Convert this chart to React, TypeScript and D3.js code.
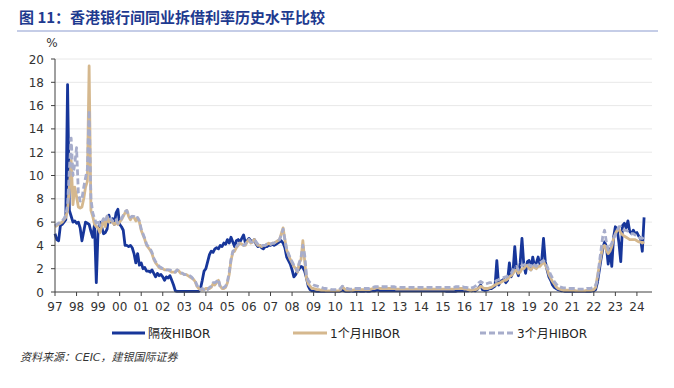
import React from "react";
import * as d3 from "d3";

const startYear = 1997;
const yearLabels = ["97","98","99","00","01","02","03","04","05","06","07","08","09","10","11","12","13","14","15","16","17","18","19","20","21","22","23","24"];
const yTicks = [0, 2, 4, 6, 8, 10, 12, 14, 16, 18, 20];
const seriesNames = ["隔夜HIBOR", "1个月HIBOR", "3个月HIBOR"];

// Monthly values from Jan 1997 to May 2024 (%)
const overnight = [
  5.0, 4.5, 4.4, 5.7, 5.8, 6.0, 6.2, 17.8, 7.0, 6.5, 6.0, 6.1,
  5.9, 6.0, 5.5, 4.4, 5.2, 6.0, 5.9, 5.8, 5.2, 4.7, 5.8, 0.8,
  5.3, 6.0, 5.6, 5.0, 5.1, 5.4, 6.6, 6.0, 6.3, 5.8, 6.8, 7.1,
  5.8, 5.6, 5.3, 4.0, 4.0, 3.9, 4.0, 3.8, 3.3, 2.5, 3.3, 2.3,
  2.5, 2.0, 2.1, 1.8, 1.8, 1.7, 1.9, 1.6, 1.3, 1.6, 1.4, 1.5,
  1.3, 1.0, 1.3, 1.2, 1.4, 1.0, 0.6, 0.1, 0.05, 0.05, 0.05, 0.05,
  0.05, 0.05, 0.05, 0.05, 0.05, 0.05, 0.05, 0.05, 0.05, 0.3, 1.0, 1.8,
  2.0, 2.6, 3.2, 3.5, 3.4, 3.7, 3.8, 3.7, 4.0, 3.9, 4.2, 4.1,
  4.5, 4.2, 4.7, 4.3, 3.9, 4.4, 4.5, 4.3, 4.6, 4.9, 4.2, 4.4,
  4.6, 4.4, 4.3, 4.5, 4.1, 3.9, 4.0, 3.8, 3.7, 3.9, 3.9, 4.0,
  4.0, 4.1, 4.0, 4.1, 4.2, 4.3, 4.4, 4.2, 3.8, 3.0, 2.7, 2.4,
  1.9, 1.3, 1.5, 1.8, 2.0, 2.2, 2.1, 1.8, 1.2, 0.5, 0.2, 0.1,
  0.1, 0.08, 0.05, 0.05, 0.05, 0.05, 0.05, 0.05, 0.05, 0.05, 0.05, 0.05,
  0.05, 0.05, 0.05, 0.1, 0.15, 0.1, 0.05, 0.05, 0.05, 0.1, 0.05, 0.05,
  0.05, 0.1, 0.05, 0.05, 0.05, 0.1, 0.05, 0.05, 0.1, 0.1, 0.1, 0.15,
  0.15, 0.1, 0.1, 0.1, 0.1, 0.1, 0.1, 0.1, 0.1, 0.1, 0.1, 0.1,
  0.1, 0.1, 0.1, 0.1, 0.1, 0.1, 0.1, 0.1, 0.1, 0.1, 0.1, 0.1,
  0.1, 0.1, 0.1, 0.1, 0.1, 0.1, 0.1, 0.1, 0.1, 0.1, 0.1, 0.1,
  0.1, 0.1, 0.05, 0.05, 0.05, 0.05, 0.05, 0.05, 0.1, 0.1, 0.1, 0.1,
  0.1, 0.1, 0.1, 0.15, 0.1, 0.15, 0.1, 0.2, 0.4, 0.6, 0.2, 0.15,
  0.15, 0.2, 0.3, 0.3, 0.4, 0.5, 2.7, 0.6, 0.9, 1.0, 1.1, 0.8,
  1.0, 2.5, 1.3, 1.7, 3.9, 1.9, 1.4, 2.5, 4.6, 2.4, 1.6, 2.6,
  2.7, 1.9, 3.0, 2.2, 2.5, 3.0, 2.4, 2.7, 4.6, 2.6, 1.9, 1.3,
  1.0, 0.6, 0.4, 0.3, 0.2, 0.15, 0.1, 0.1, 0.05, 0.05, 0.05, 0.05,
  0.05, 0.05, 0.05, 0.05, 0.05, 0.05, 0.05, 0.05, 0.05, 0.05, 0.05, 0.1,
  0.1, 0.2, 0.8, 1.8, 2.8, 3.7, 4.3, 3.9, 2.4, 3.7, 2.2, 4.7,
  5.6, 5.4, 4.2, 2.6, 5.7, 5.9, 5.5, 6.1, 5.2, 5.0, 5.3, 5.0,
  5.1, 4.8, 4.6, 3.5, 6.4,
];

const oneMonth = [
  5.6, 5.7, 5.8, 5.9, 6.0, 6.2, 6.4, 7.0, 9.0, 11.3, 7.5, 9.0,
  8.2, 7.3, 7.2, 7.3, 8.0, 9.0, 9.5, 19.4, 7.0, 6.5, 5.8, 5.6,
  5.5, 5.1, 5.6, 6.2, 5.6, 6.5, 6.0, 6.2, 6.0, 5.8, 6.0, 5.8,
  6.0, 6.2, 6.5, 6.8, 7.0, 6.5, 6.2, 6.5, 6.4, 6.1, 6.3, 6.0,
  5.3, 4.9, 4.5, 4.0, 3.8, 3.6, 3.3, 2.8, 2.5, 2.3, 2.1, 2.0,
  2.0, 1.9, 1.9, 1.9, 1.8, 1.7, 1.7, 1.7, 1.9, 1.8, 1.6, 1.6,
  1.5, 1.5, 1.4, 1.3, 1.2, 1.1, 0.9, 0.5, 0.3, 0.2, 0.2, 0.2,
  0.3, 0.3, 0.3, 0.4, 0.7, 0.6, 0.8, 1.0, 0.5, 0.3, 0.3, 0.4,
  0.8, 1.5, 2.7, 3.4, 3.5, 3.8, 4.0, 4.2, 4.1, 4.0, 4.0, 4.3,
  4.5, 4.2, 4.3, 4.5, 4.2, 4.0, 4.0, 3.9, 4.0, 4.0, 4.1, 4.2,
  4.1, 4.2, 4.2, 4.3, 4.4, 4.5, 5.0, 5.5, 4.5, 3.6, 3.2, 2.8,
  2.5, 2.2, 2.0, 1.7, 2.5, 2.8, 4.4, 2.7, 1.2, 0.7, 0.5, 0.3,
  0.3, 0.25, 0.2, 0.2, 0.15, 0.15, 0.15, 0.1, 0.1, 0.1, 0.1, 0.1,
  0.1, 0.1, 0.1, 0.2, 0.45, 0.3, 0.15, 0.15, 0.15, 0.15, 0.15, 0.2,
  0.2, 0.2, 0.2, 0.2, 0.2, 0.2, 0.2, 0.2, 0.25, 0.3, 0.3, 0.35,
  0.35, 0.3, 0.3, 0.3, 0.3, 0.3, 0.3, 0.3, 0.3, 0.3, 0.25, 0.25,
  0.25, 0.25, 0.25, 0.25, 0.25, 0.25, 0.25, 0.25, 0.25, 0.25, 0.25, 0.25,
  0.25, 0.25, 0.25, 0.25, 0.25, 0.25, 0.25, 0.25, 0.25, 0.25, 0.25, 0.25,
  0.25, 0.25, 0.25, 0.25, 0.25, 0.25, 0.25, 0.3, 0.3, 0.3, 0.3, 0.3,
  0.25, 0.25, 0.2, 0.15, 0.15, 0.2, 0.2, 0.25, 0.35, 0.5, 0.4, 0.3,
  0.3, 0.3, 0.35, 0.4, 0.5, 0.6, 0.7, 0.75, 0.8, 0.9, 1.0, 1.0,
  1.1, 1.3, 1.4, 1.6, 1.8, 1.9, 1.6, 1.7, 2.0, 2.0, 2.2, 2.3,
  2.0, 1.9, 2.2, 2.1, 2.0, 2.2, 2.2, 2.4, 2.6, 2.3, 2.0, 1.5,
  1.2, 0.9, 0.7, 0.45, 0.3, 0.25, 0.2, 0.15, 0.15, 0.15, 0.15, 0.15,
  0.15, 0.15, 0.1, 0.1, 0.1, 0.1, 0.1, 0.1, 0.15, 0.15, 0.15, 0.15,
  0.2, 0.4, 1.3, 2.2, 3.1, 3.9, 4.0, 3.6, 3.3, 3.5, 3.9, 4.6,
  5.0, 5.3, 5.4, 5.1, 4.9, 4.8, 4.7, 4.6, 4.5, 4.5, 4.5, 4.5,
  4.4, 4.3, 4.3, 4.2, 4.3,
];

const threeMonth = [
  5.7, 5.8, 5.9, 6.0, 6.1, 6.3, 6.6, 7.5, 10.5, 13.2, 10.0, 11.0,
  12.4, 8.5, 7.8, 8.0, 9.0, 9.8, 10.5, 15.6, 8.0, 6.8, 6.3, 5.9,
  6.2, 5.7, 6.0, 6.3, 6.0, 6.5, 6.2, 6.3, 6.1, 6.0, 6.2, 5.9,
  6.1, 6.3, 6.6, 6.9, 7.0, 6.6, 6.4, 6.5, 6.5, 6.3, 6.4, 6.1,
  5.4, 5.0, 4.6, 4.1, 3.9, 3.7, 3.4, 2.9, 2.6, 2.4, 2.2, 2.1,
  2.0, 2.0, 1.9, 1.9, 1.9, 1.8, 1.7, 1.7, 1.9, 1.8, 1.7, 1.6,
  1.5, 1.5, 1.5, 1.4, 1.3, 1.1, 1.0, 0.6, 0.3, 0.2, 0.3, 0.2,
  0.3, 0.2, 0.4, 0.5, 0.8, 0.8, 0.9, 1.1, 0.4, 0.3, 0.4, 0.5,
  0.9, 1.7, 2.8, 3.5, 3.6, 3.9, 4.1, 4.2, 4.1, 4.0, 4.1, 4.4,
  4.5, 4.3, 4.3, 4.5, 4.3, 4.1, 4.0, 4.0, 4.0, 4.0, 4.1, 4.1,
  4.1, 4.2, 4.2, 4.3, 4.4, 4.5, 4.9, 5.4, 4.5, 3.7, 3.3, 2.9,
  2.6, 2.3, 2.1, 1.8, 2.5, 3.0, 4.0, 3.2, 1.5, 1.0, 0.8, 0.7,
  0.6, 0.55, 0.5, 0.45, 0.4, 0.35, 0.3, 0.3, 0.25, 0.25, 0.2, 0.2,
  0.2, 0.2, 0.2, 0.3, 0.5, 0.4, 0.3, 0.3, 0.25, 0.25, 0.25, 0.3,
  0.3, 0.3, 0.3, 0.3, 0.3, 0.3, 0.3, 0.3, 0.35, 0.4, 0.45, 0.45,
  0.45, 0.45, 0.45, 0.45, 0.45, 0.45, 0.45, 0.45, 0.45, 0.45, 0.4, 0.4,
  0.4, 0.4, 0.4, 0.4, 0.4, 0.4, 0.4, 0.4, 0.4, 0.4, 0.4, 0.4,
  0.4, 0.4, 0.4, 0.4, 0.4, 0.4, 0.4, 0.4, 0.4, 0.4, 0.4, 0.4,
  0.4, 0.4, 0.4, 0.4, 0.4, 0.4, 0.4, 0.45, 0.45, 0.45, 0.45, 0.45,
  0.4, 0.4, 0.35, 0.3, 0.35, 0.4, 0.5, 0.6, 0.8, 0.9, 0.8, 0.7,
  0.7, 0.75, 0.8, 0.8, 0.85, 0.9, 1.0, 1.05, 1.15, 1.2, 1.25, 1.3,
  1.35, 1.5, 1.6, 1.9, 2.1, 2.2, 1.9, 2.0, 2.3, 2.3, 2.4, 2.5,
  2.3, 2.2, 2.5, 2.3, 2.2, 2.4, 2.5, 2.6, 2.7, 2.5, 2.2, 1.8,
  1.5, 1.2, 0.9, 0.7, 0.5, 0.45, 0.4, 0.35, 0.35, 0.35, 0.3, 0.3,
  0.3, 0.3, 0.25, 0.25, 0.25, 0.25, 0.25, 0.25, 0.3, 0.3, 0.3, 0.35,
  0.4, 0.6, 1.0, 2.4, 3.6, 4.8, 5.3, 4.3, 3.6, 3.9, 4.2, 4.6,
  4.9, 5.3, 5.6, 5.6, 5.4, 5.3, 5.3, 5.2, 5.1, 5.0, 5.0, 4.9,
  4.8, 4.75, 4.6, 4.6, 4.75,
];

const W = 674;
const H = 388;
const left = 55;
const right = 652;
const top = 59;
const bottom = 292;

const colors = ["#17369A", "#D5B88E", "#A7ADCB"];

export default function App() {
  const x = d3.scaleLinear().domain([startYear, startYear + 27.7]).range([left, right]);
  const y = d3.scaleLinear().domain([0, 20]).range([bottom, top]);
  const line = d3
    .line<number>()
    .x((_, i) => x(startYear + i / 12))
    .y((d) => y(d));

  const series = [overnight, oneMonth, threeMonth];
  const font = "'DejaVu Sans', 'Noto Sans CJK SC', sans-serif";

  const legendItems = [
    { x1: 112, x2: 145, tx: 148, dash: undefined },
    { x1: 293, x2: 327, tx: 330, dash: undefined },
    { x1: 480, x2: 513, tx: 517, dash: "6,3" },
  ];

  return (
    <svg width={W} height={H} style={{ position: "absolute", left: 0, top: 0, background: "#fff" }}>
      <text x={19} y={23} fontFamily="'Noto Sans CJK SC', sans-serif" fontWeight="bold" fontSize={15} fill="#1E3A8F">
        图 11：香港银行间同业拆借利率历史水平比较
      </text>
      <line x1={17} x2={658} y1={31} y2={31} stroke="#8C9CCF" strokeWidth={1.2} />
      <text x={52} y={47} textAnchor="middle" fontFamily={font} fontSize={12} fill="#333">%</text>

      {yTicks.filter((t) => t > 0).map((t) => (
        <line key={"g" + t} x1={left} x2={right} y1={y(t)} y2={y(t)} stroke="#E8E8E8" strokeWidth={1} />
      ))}

      {series.map((s, i) => (
        <path
          key={i}
          d={line(s) || ""}
          fill="none"
          stroke={colors[i]}
          strokeWidth={2.8}
          strokeDasharray={i === 2 ? "6,3" : undefined}
          strokeLinejoin="round"
        />
      ))}

      <line x1={left} x2={left} y1={top} y2={bottom} stroke="#404040" strokeWidth={1} />
      <line x1={left} x2={right} y1={bottom} y2={bottom} stroke="#404040" strokeWidth={1} />
      {yTicks.map((t) => (
        <g key={"y" + t}>
          <line x1={left - 4} x2={left} y1={y(t)} y2={y(t)} stroke="#404040" />
          <text x={44} y={y(t) + 4.5} textAnchor="end" fontFamily={font} fontSize={12} fill="#333">
            {t}
          </text>
        </g>
      ))}
      {yearLabels.map((lab, i) => (
        <g key={"x" + lab}>
          <line x1={x(startYear + i)} x2={x(startYear + i)} y1={bottom} y2={bottom + 4} stroke="#404040" />
          <text x={x(startYear + i)} y={bottom + 19} textAnchor="middle" fontFamily={font} fontSize={12} fill="#333">
            {lab}
          </text>
        </g>
      ))}

      {legendItems.map((it, i) => (
        <g key={"l" + i}>
          <line x1={it.x1} x2={it.x2} y1={333} y2={333} stroke={colors[i]} strokeWidth={3} strokeDasharray={it.dash} />
          <text x={it.tx} y={337.5} fontFamily={font} fontSize={12} fill="#222">
            {seriesNames[i]}
          </text>
        </g>
      ))}

      <text x={20} y={361} fontFamily={font} fontStyle="italic" fontSize={11} fill="#333">
        资料来源：CEIC，建银国际证券
      </text>
    </svg>
  );
}
